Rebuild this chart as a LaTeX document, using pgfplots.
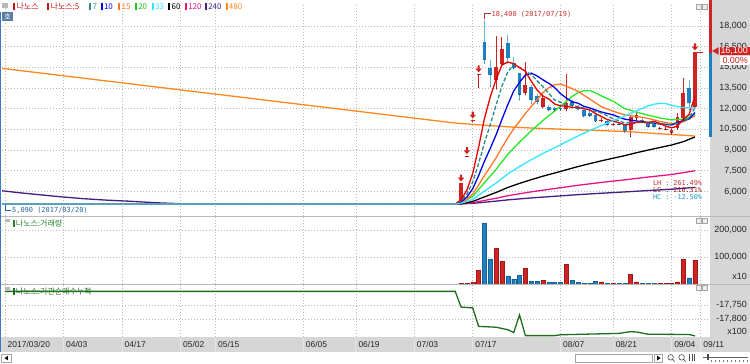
\documentclass[border=0pt]{standalone}
\usepackage{pgfplots}
\pgfplotsset{compat=1.18}
\usepackage{pgfplotstable}
\usepackage{fontspec}
\setmainfont{Liberation Sans}
\newfontfamily\kr{Noto Sans CJK KR}
\newfontfamily\mono{DejaVu Sans Mono}

\definecolor{upred}{RGB}{210,35,35}
\definecolor{dnblue}{RGB}{30,128,195}
\definecolor{dnwick}{RGB}{100,180,225}
\definecolor{ma5}{RGB}{230,0,0}
\definecolor{ma7}{RGB}{40,140,140}
\definecolor{ma10}{RGB}{0,0,230}
\definecolor{ma15}{RGB}{255,120,40}
\definecolor{ma20}{RGB}{40,230,40}
\definecolor{ma33}{RGB}{50,230,255}
\definecolor{ma60}{RGB}{0,0,0}
\definecolor{ma120}{RGB}{230,20,130}
\definecolor{ma240}{RGB}{70,30,130}
\definecolor{ma480}{RGB}{255,135,30}
\definecolor{panelgray}{RGB}{214,214,214}
\definecolor{gridc}{RGB}{185,185,185}
\definecolor{lblgreen}{RGB}{40,130,40}
\definecolor{linegreen}{RGB}{30,110,30}
\definecolor{annored}{RGB}{200,50,50}
\definecolor{annoblue}{RGB}{40,100,160}
\definecolor{hobox}{RGB}{90,125,165}
\definecolor{leftblue}{RGB}{60,120,200}
\definecolor{lgred}{RGB}{200,20,20}

\pgfdeclareplotmark{limarrow}{%
  \pgfpathmoveto{\pgfqpoint{-1.1pt}{3.5pt}}%
  \pgfpathlineto{\pgfqpoint{1.1pt}{3.5pt}}%
  \pgfpathlineto{\pgfqpoint{1.1pt}{0.3pt}}%
  \pgfpathlineto{\pgfqpoint{3.2pt}{0.3pt}}%
  \pgfpathlineto{\pgfqpoint{0pt}{-3.5pt}}%
  \pgfpathlineto{\pgfqpoint{-3.2pt}{0.3pt}}%
  \pgfpathlineto{\pgfqpoint{-1.1pt}{0.3pt}}%
  \pgfpathclose
  \pgfusepathqfill
}

\pgfplotsset{
  panel/.style={
    scale only axis, width=706.68bp, xmin=-0.5, xmax=120.3,
    axis line style={draw=none},
    xtick={0,10,20,30,36,51,60,70,80,95,104,114,119},
    xmajorgrids, ymajorgrids,
    major grid style={draw=gridc, line width=0.6bp, dash pattern=on 1bp off 2bp},
    xtick style={draw=none}, ytick style={draw=none},
    yticklabel pos=right,
    yticklabel style={font=\fontsize{9}{10}\selectfont, anchor=east, xshift=38.7bp, text=black!85, inner sep=0pt},
    scaled y ticks=false,
  },
  candle/.style={only marks, mark=*, mark options={draw=none, fill=none}, mark size=0.1pt},
}

\pgfplotstableread{
x O H L C
78 5100 6617 5090 6617
79 8510 8600 8510 8600
80 11090 11180 11090 11180
81 14440 14530 13530 14530
84 14090 17280 13410 15000
85 15250 17230 15180 16300
89 13170 15400 13000 13730
92 12150 12900 12050 12750
96 11950 14500 11850 12400
102 11100 11300 11050 11200
104 10850 11000 10800 10900
107 10460 11500 9980 11380
108 11310 11790 11200 11550
112 10560 10700 10500 10610
113 10520 10650 10450 10560
114 10270 10550 10150 10470
115 10590 11670 10500 11380
116 11310 14210 11200 13120
118 12160 16100 12100 16100
}\upcandles

\pgfplotstableread{
x O H L C
82 16870 18400 15300 15540
83 14930 15540 13600 14450
86 16740 17350 15300 15650
87 15300 15780 14900 14930
88 14570 14600 12640 13000
90 13560 13730 12400 12640
91 12950 13100 12350 12500
93 12150 12300 11850 11920
94 12050 12150 11850 11900
95 12080 12200 11900 11950
97 12500 12600 12150 12250
98 12150 12250 11900 11950
99 11900 12000 11400 11450
100 11700 11800 11450 11500
101 11550 11600 11050 11080
103 11100 11150 10800 10850
105 10920 10950 10850 10880
106 10830 10900 10300 10340
109 11190 11300 11000 11070
110 10950 11000 10650 10710
111 10880 10950 10650 10710
117 13480 14090 11910 12400
}\downcandles

\newcommand{\leg}[3]{%
  \fill[#2] (#1,353.6) rectangle ++(2,7);
  \node[anchor=west, inner sep=0pt, text=#2, font=\kr\fontsize{8}{8}\selectfont] at (#1+3.2,357.2) {#3};
}

\begin{document}
\begin{tikzpicture}[x=1bp,y=1bp]
\fill[white] (0,0) rectangle (750,364);
\fill[panelgray] (710,27) rectangle (750,364);
\fill[panelgray] (0,12) rectangle (750,27);

% lower panel labels (under the data)
\fill[gray!55] (5,364-222) rectangle (10,364-219);
\fill[lblgreen] (12.7,364-227.5) rectangle ++(2,7);
\node[anchor=west, inner sep=0pt, text=lblgreen, font=\kr\fontsize{8}{8}\selectfont] at (15.8,364-224) {나노스:거래량};
\fill[gray!55] (5,364-290) rectangle (10,364-287);
\fill[linegreen] (12.7,364-295.2) rectangle ++(2,7);
\node[anchor=west, inner sep=0pt, text=linegreen, font=\kr\fontsize{8}{8}\selectfont] at (15.8,364-291.7) {나노스:기관순매수누적};

% ---------------- price panel ----------------
\begin{axis}[panel, at={(2.075bp,361bp)}, anchor=north west, height=213bp,
  ymin=4230, ymax=19664,
  ytick={6000,7500,9000,10500,12000,13500,15000,16500,18000},
  yticklabels={{6,000},{7,500},{9,000},{10,500},{12,000},{13,500},{15,000},{16,500},{18,000}},
  xticklabels={}]
% wicks
\addplot[candle, error bars/.cd, y dir=plus, y explicit, error mark=none,
  error bar style={line width=1bp, upred}]
  table[x=x, y=L, y error plus expr=\thisrow{H}-\thisrow{L}] {\upcandles};
\addplot[candle, error bars/.cd, y dir=plus, y explicit, error mark=none,
  error bar style={line width=1bp, dnwick}]
  table[x=x, y=L, y error plus expr=\thisrow{H}-\thisrow{L}] {\downcandles};
% bodies
\addplot[candle, error bars/.cd, y dir=plus, y explicit, error mark=none,
  error bar style={line width=3.8bp, upred}]
  table[x=x, y=O, y error plus expr=\thisrow{C}-\thisrow{O}] {\upcandles};
\addplot[candle, error bars/.cd, y dir=plus, y explicit, error mark=none,
  error bar style={line width=3.8bp, dnblue}]
  table[x=x, y=C, y error plus expr=\thisrow{O}-\thisrow{C}] {\downcandles};
% moving averages
\addplot[ma480, line width=1.3bp] coordinates {(-0.5,14925)(77,10960)(81,10830)(87,10660)(91,10580)(106,10350)(118,10020)};
\addplot[ma240, line width=1.3bp] coordinates {(-0.5,6050)(2,5930)(5,5800)(9.4,5620)(13.3,5480)(17,5380)(21.4,5290)(26,5180)(31.5,5090)(77,5090)(78,5096)(80,5136)(82,5219)(84,5300)(86,5390)(90,5532)(94,5651)(98,5769)(102,5872)(106,5967)(110,6068)(114,6160)(118,6296)};
\addplot[ma120, line width=1.3bp] coordinates {(-0.5,5090)(77,5090)(78,5103)(80,5183)(82,5349)(84,5509)(86,5691)(90,5973)(94,6213)(98,6448)(102,6655)(106,6843)(110,7046)(114,7229)(118,7501)};
\addplot[ma60, line width=1.3bp] coordinates {(-0.5,5090)(77,5090)(78,5115)(80,5275)(82,5607)(84,5928)(86,6291)(88,6587)(90,6857)(92,7108)(94,7335)(96,7571)(98,7805)(100,8018)(102,8220)(104,8412)(106,8597)(108,8809)(110,9002)(112,9188)(114,9369)(116,9607)(118,9950)};
\addplot[ma20, line width=1.3bp] coordinates {(-0.5,5090)(77,5090)(78,5166)(80,5646)(82,6641)(84,7605)(86,8693)(88,9581)(90,10390)(92,11144)(94,11826)(96,12534)(97,12892)(98,13159)(99,13302)(100,13318)(101,13145)(102,12928)(104,12543)(106,12006)(108,11756)(110,11527)(112,11330)(114,11191)(116,11250)(118,11550)};
\addplot[ma15, line width=1.3bp] coordinates {(-0.5,5090)(77,5090)(78,5192)(79,5426)(80,5832)(81,6461)(82,7158)(83,7782)(84,8443)(85,9190)(86,9894)(87,10550)(88,11078)(89,11654)(90,12157)(91,12651)(92,13162)(93,13515)(94,13735)(95,13787)(96,13645)(98,13258)(100,12701)(102,12148)(104,11816)(106,11555)(108,11439)(110,11301)(112,11079)(114,10921)(116,11049)(118,11479)};
\addplot[ma10, line width=1.3bp] coordinates {(-0.5,5090)(77,5090)(78,5243)(79,5594)(80,6203)(81,7147)(82,8193)(83,9129)(84,10120)(85,11241)(86,12297)(87,13281)(88,13919)(89,14432)(90,14578)(91,14375)(92,14095)(93,13842)(94,13532)(95,13097)(96,12772)(97,12504)(98,12399)(99,12171)(100,12057)(102,11760)(104,11553)(106,11240)(108,11113)(110,10996)(112,10900)(114,10828)(116,11156)(117,11258)(118,11713)};
\addplot[ma7, line width=1.3bp, dash pattern=on 4bp off 2bp] coordinates {(-0.5,5090)(77,5090)(78,5308)(79,5810)(80,6680)(81,8028)(82,9522)(83,10860)(84,12275)(85,13659)(86,14666)(87,15201)(88,14983)(89,14723)(90,14464)(92,13600)(94,12634)(96,12294)(98,12160)(100,11914)(102,11690)(104,11276)(106,10964)(108,11014)(110,10976)(112,10910)(114,10811)(116,11080)(117,11321)(118,12091)};
\addplot[ma5, line width=1.3bp] coordinates {(-0.5,5090)(77,5090)(78,5395)(79,6097)(80,7315)(81,9203)(82,11295)(83,12862)(84,14142)(85,15166)(86,15390)(87,15266)(88,14976)(89,14722)(90,13990)(91,13360)(92,12924)(93,12708)(94,12342)(95,12204)(96,12184)(97,12084)(98,12090)(99,12000)(100,11910)(101,11646)(102,11436)(103,11216)(104,11106)(105,10982)(106,10834)(107,10870)(108,11010)(109,11044)(110,11010)(111,11084)(112,10930)(113,10732)(114,10612)(115,10746)(116,11228)(117,11586)(118,12900)};
\addplot[ma33, line width=1.3bp] coordinates {(-0.5,5090)(77,5090)(78,5136)(80,5427)(82,6030)(84,6614)(86,7274)(88,7812)(90,8302)(92,8759)(94,9172)(96,9602)(98,10027)(100,10414)(102,10780)(104,11131)(106,11465)(108,11852)(110,12203)(111,12327)(112,12388)(113,12369)(114,12246)(116,12080)(118,12050)};
% upper limit arrows
\addplot[only marks, mark=limarrow, color=upred, mark options={fill=upred, draw=none}] coordinates {(78,6977)(79,8960)(80,11540)(81,14890)(118,16480)};
\draw[upred, line width=1bp] (axis cs:118.3,16100) -- (axis cs:119.3,16100);
% annotations
\draw[annored, line width=0.8bp] (axis cs:82,18470) -- (axis cs:82,18880) -- (axis cs:83.1,18880);
\node[anchor=west, inner sep=0.5bp, text=annored, font=\mono\fontsize{7}{7}\selectfont] at (axis cs:83.1,18860) {18,400 (2017/07/19)};
\draw[annoblue, line width=0.8bp] (axis cs:0,5040) -- (axis cs:0,4595) -- (axis cs:1.1,4595);
\node[anchor=west, inner sep=0.5bp, text=annoblue, font=\mono\fontsize{7}{7}\selectfont] at (axis cs:1.1,4610) {5,090 (2017/03/20)};
\node[anchor=west, inner sep=0pt, text=annored, font=\mono\fontsize{6.8}{7}\selectfont] at (axis cs:110.8,6645) {LH : 261.49\%};
\node[anchor=west, inner sep=0pt, text=annored!80!black, font=\mono\fontsize{6.8}{7}\selectfont] at (axis cs:110.8,6116) {LC : 216.31\%};
\node[anchor=west, inner sep=0pt, text=dnblue!80!cyan, font=\mono\fontsize{6.8}{7}\selectfont] at (axis cs:110.8,5587) {HC : -12.50\%};
\end{axis}

% ---------------- volume panel ----------------
\begin{axis}[panel, at={(2.075bp,147bp)}, anchor=north west, height=67.6bp,
  ymin=0, ymax=247600,
  ytick={100000,200000}, yticklabels={{100,000},{200,000}},
  extra y ticks={27800}, extra y tick labels={x10}, extra y tick style={grid=none},
  xticklabels={}]
\addplot[ybar, bar width=4bp, bar shift=0pt, fill=upred, draw=upred!75!black, line width=0.3bp]
  coordinates {(78,4000)(79,4000)(80,8500)(81,52400)(84,131700)(85,85400)(89,58500)(92,15900)(96,73200)(102,9800)(104,4900)(107,37800)(108,9800)(112,3700)(113,3700)(114,4900)(115,9800)(116,91500)(118,89000)};
\addplot[ybar, bar width=4bp, bar shift=0pt, fill=dnblue, draw=dnblue!75!black, line width=0.3bp]
  coordinates {(82,223000)(83,92700)(86,31700)(87,19500)(88,32900)(90,12200)(91,12200)(93,7300)(94,7300)(95,7300)(97,14600)(98,7300)(99,4900)(100,4900)(101,12200)(103,4900)(105,3700)(106,4900)(109,4900)(110,4900)(111,4900)(117,24400)};
\end{axis}

% ---------------- institutional net buying panel ----------------
\begin{axis}[panel, at={(2.075bp,79bp)}, anchor=north west, height=52bp,
  ymin=-17864.3, ymax=-17678.6,
  ytick={-17800,-17750}, yticklabels={{-17,800},{-17,750}},
  extra y ticks={-17845.4}, extra y tick labels={x100}, extra y tick style={grid=none},
  xticklabels={2017/03/20,04/03,04/17,05/02,05/15,06/05,06/19,07/03,07/17,08/07,08/21,09/04,09/11},
  xticklabel style={font=\fontsize{8.5}{9}\selectfont, anchor=west, yshift=-8bp, xshift=2.5bp, inner sep=0pt, text=black!85}]
\addplot[linegreen, line width=1.3bp] coordinates {(0,-17702)(77,-17702)(78,-17758)(80,-17761)(81,-17827)(84,-17830)(86,-17839)(87,-17849)(88,-17786)(89,-17860)(94,-17860)(95,-17857)(105,-17852)(107,-17846)(108,-17847)(110,-17855)(117,-17856)(118,-17861)};
\end{axis}

% separators
\draw[gray!55, line width=0.8bp] (1.3,364-216.5) -- (750,364-216.5);
\draw[gray!55, line width=0.8bp] (1.3,364-284.4) -- (750,364-284.4);
\foreach \xx in {63.5,122,180.5,215.6,303.4,356,414.5,473,560.8,613.4,672,701} {
  \draw[white!80!gray, line width=0.8bp] (\xx,12) -- (\xx,27);
}
% right side price indicator
\fill[upred] (709.3,364) rectangle (712.3,364-53);
\fill[dnblue] (709.3,364-53) rectangle (712.3,364-137);
\fill[upred] (712.5,364-51) -- (719,364-47.2) -- (719,364-54.8) -- cycle;
\fill[upred] (720,364-55.2) rectangle (750,364-46.6);
\node[anchor=east, inner sep=0pt, text=white, font=\fontsize{9}{10}\selectfont] at (748.5,364-50.9) {16,100};
\fill[white] (720,364-65) rectangle (750,364-56);
\node[anchor=east, inner sep=0pt, text=upred, font=\fontsize{9}{10}\selectfont] at (748.5,364-60.5) {0.00\%};

% panel icons
\foreach \yy in {6.5,220.8,288.3} {
  \draw[gray!70, fill=gray!15, line width=0.5bp] (697,364-\yy-2.5) rectangle ++(5,5);
  \draw[gray!70, fill=gray!15, line width=0.5bp] (703,364-\yy-2.5) rectangle ++(5,5);
}

% legend
\fill[gray!55] (2,364-8) rectangle (8,364-3);
\leg{13.3}{lgred}{나노스}
\leg{47.3}{lgred}{나노스:5}
\leg{89.3}{ma7}{7}
\leg{100.7}{ma10}{10}
\leg{118.3}{ma15}{15}
\leg{135}{ma20!85!black}{20}
\leg{151.7}{ma33}{33}
\leg{168.3}{black}{60}
\leg{185}{ma120}{120}
\leg{205}{ma240}{240}
\leg{225.7}{ma480}{480}
\fill[hobox] (2,364-21) rectangle (13,364-12);
\node[text=white, inner sep=0pt, font=\kr\fontsize{7}{7}\selectfont] at (7.5,364-16.5) {호};

% left border
\fill[leftblue] (0,12) rectangle (1.3,364-12);

% bottom scroll bar
\draw[gray!70, fill=white, line width=0.5bp] (1.7,1.5) rectangle (11.7,10);
\fill[black] (4.5,5.75) -- (8,8) -- (8,3.5) -- cycle;
\draw[gray!70, fill=white, line width=0.5bp] (576,1.5) rectangle (653,10);
\draw[gray!70, fill=white, line width=0.5bp] (655,1.5) rectangle (663,10);
\fill[black] (661,5.75) -- (657.5,8) -- (657.5,3.5) -- cycle;
\draw[black!70, line width=0.6bp] (671,6.5) circle (2.8) (673,4.5) -- (675,2);
\draw[black!70, line width=0.6bp] (682,6.5) circle (2.8) (684,4.5) -- (686,2);
\draw[black!70, line width=0.5bp] (690,3) -- (690,10) (692.5,3) -- (692.5,10) (695,3) -- (695,10);
\draw[black!60, line width=0.6bp] (703,7) -- (748,7);
\fill[black!70] (707,4) rectangle (709,10);
\foreach \xx in {712,716,...,748} {\draw[black!50, line width=0.4bp] (\xx,1.5) -- (\xx,4);}
\end{tikzpicture}
\end{document}
